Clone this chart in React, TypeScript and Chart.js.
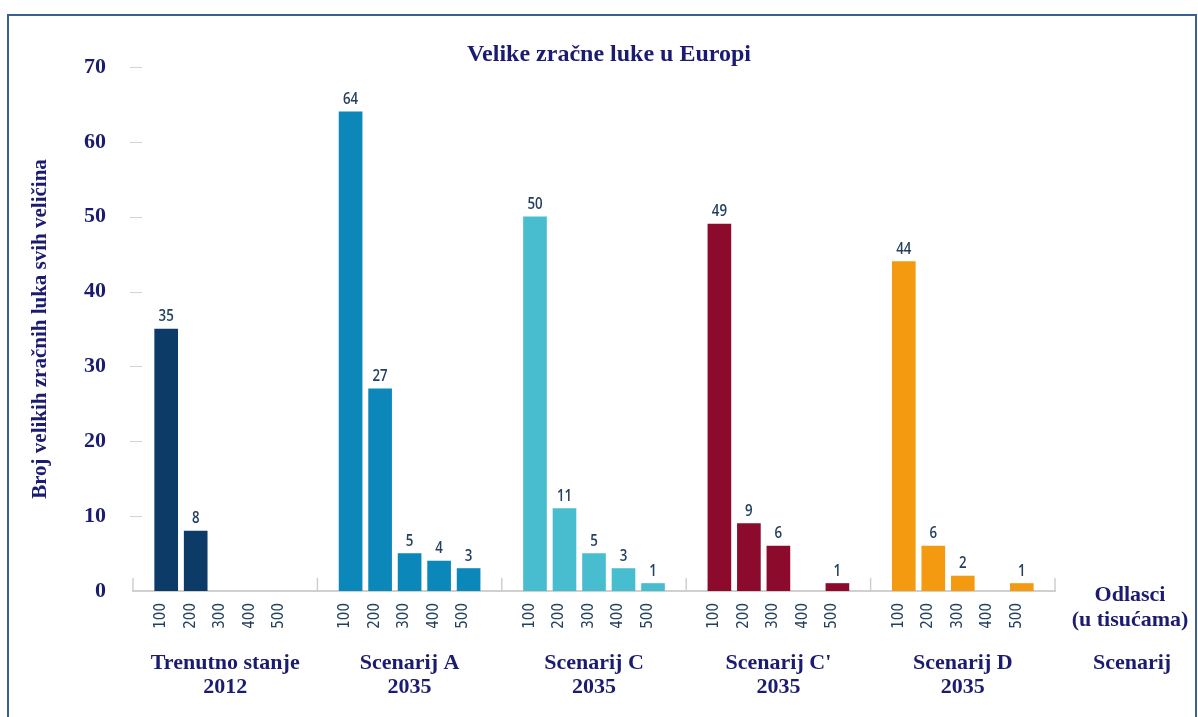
import React, { useEffect, useRef } from "react";
import { Chart, registerables } from "chart.js";

Chart.register(...registerables);

const TITLE = "Velike zračne luke u Europi";
const Y_TITLE = "Broj velikih zračnih luka svih veličina";
const GROUP_LABELS: string[][] = [
  ["Trenutno stanje", "2012"],
  ["Scenarij A", "2035"],
  ["Scenarij C", "2035"],
  ["Scenarij C'", "2035"],
  ["Scenarij D", "2035"],
];
const SIZE_LABELS = ["100", "200", "300", "400", "500"];
const trenutno2012 = [35, 8, 0, 0, 0];
const scenarijA = [64, 27, 5, 4, 3];
const scenarijC = [50, 11, 5, 3, 1];
const scenarijC2 = [49, 9, 6, 0, 1];
const scenarijD = [44, 6, 2, 0, 1];
const SERIES = [trenutno2012, scenarijA, scenarijC, scenarijC2, scenarijD];
const COLORS = ["#0b3b66", "#0b87b9", "#49bdd0", "#8c0a2b", "#f39a10"];
const Y_TICKS = [0, 10, 20, 30, 40, 50, 60, 70];
const X_UNIT_LABEL = ["Odlasci", "(u tisućama)"];
const SCENARIO_LABEL = "Scenarij";

const GROUP_W = 6.25;
const GROUP_PAD = 1.125;
const xOf = (g: number, i: number) => g * GROUP_W + GROUP_PAD + i;

const SERIF = "'Liberation Serif', 'Times New Roman', serif";
const NARROW = "'DejaVu Sans Condensed', 'Liberation Sans Narrow', sans-serif";
const LABEL_FONT = "'Open Sans', 'Noto Sans', sans-serif";
const NAVY = "#1b1b70";
const LABEL_COL = "#23405e";

export default function App() {
  const ref = useRef<HTMLCanvasElement | null>(null);
  useEffect(() => {
    if (!ref.current) return;
    const tickPositions: number[] = [];
    const tickText: Record<string, string> = {};
    SERIES.forEach((_, g) =>
      SIZE_LABELS.forEach((lab, i) => {
        const v = xOf(g, i);
        tickPositions.push(v);
        tickText[v.toFixed(3)] = lab;
      })
    );
    const decor = {
      id: "decor",
      afterDraw(chart: any) {
        const { ctx, chartArea, scales } = chart;
        const xs = scales.x;
        const ys = scales.y;
        ctx.save();
        // y tick dashes
        ctx.strokeStyle = "#d2d2d2";
        ctx.lineWidth = 1;
        Y_TICKS.slice(1).forEach((t) => {
          const y = Math.round(ys.getPixelForValue(t)) + 0.5;
          ctx.beginPath();
          ctx.moveTo(chartArea.left - 3, y);
          ctx.lineTo(chartArea.left + 9, y);
          ctx.stroke();
        });
        // group separators
        ctx.strokeStyle = "#cfcfcf";
        ctx.lineWidth = 1.5;
        for (let g = 0; g <= SERIES.length; g++) {
          const x = xs.getPixelForValue(g * GROUP_W);
          ctx.beginPath();
          ctx.moveTo(x, chartArea.bottom);
          ctx.lineTo(x, chartArea.bottom - 13);
          ctx.stroke();
        }
        // value labels (condensed)
        ctx.fillStyle = LABEL_COL;
        ctx.font = `600 17px ${LABEL_FONT}`;
        ctx.textAlign = "center";
        ctx.textBaseline = "alphabetic";
        SERIES.forEach((arr, g) =>
          arr.forEach((v, i) => {
            if (!v) return;
            const x = xs.getPixelForValue(xOf(g, i));
            const y = ys.getPixelForValue(v);
            ctx.save();
            ctx.translate(x, y - 8);
            ctx.scale(0.78, 1);
            ctx.fillText(String(v), 0, 0);
            ctx.restore();
          })
        );
        // title
        ctx.fillStyle = NAVY;
        ctx.font = `bold 24px ${SERIF}`;
        ctx.textBaseline = "middle";
        ctx.fillText(TITLE, 609, 55);
        // group labels
        ctx.font = `bold 22px ${SERIF}`;
        GROUP_LABELS.forEach((lines, g) => {
          const x = xs.getPixelForValue(g * GROUP_W + GROUP_W / 2);
          lines.forEach((l, k) => ctx.fillText(l, x, 663 + k * 24));
        });
        ctx.fillText(X_UNIT_LABEL[0], 1130, 595);
        ctx.fillText(X_UNIT_LABEL[1], 1130, 620);
        ctx.fillText(SCENARIO_LABEL, 1132, 663);
        ctx.restore();
      },
    };
    const chart = new Chart(ref.current, {
      type: "bar",
      data: {
        datasets: SERIES.map((arr, g) => ({
          label: GROUP_LABELS[g].join(" "),
          data: arr.map((v, i) => ({ x: xOf(g, i), y: v === 0 ? null : v })),
          backgroundColor: COLORS[g],
          borderWidth: 0,
          barThickness: 23,
          grouped: false,
        })),
      },
      options: {
        animation: false,
        responsive: false,
        maintainAspectRatio: false,
        layout: { padding: { left: 0, top: 67, right: 143, bottom: 0 } },
        plugins: { legend: { display: false }, title: { display: false }, tooltip: { enabled: false } },
        scales: {
          x: {
            type: "linear",
            min: 0,
            max: GROUP_W * SERIES.length,
            offset: false,
            grid: { display: false },
            border: { display: true, color: "#d0d0d0", width: 2 },
            afterBuildTicks: (scale: any) => {
              scale.ticks = tickPositions.map((v) => ({ value: v }));
            },
            afterFit: (scale: any) => {
              scale.height = 717 - 591;
            },
            ticks: {
              autoSkip: false,
              minRotation: 90,
              maxRotation: 90,
              padding: 4,
              labelOffset: -5,
              color: LABEL_COL,
              font: { family: NARROW, size: 15 },
              callback: (v: any) => tickText[Number(v).toFixed(3)] ?? "",
            },
          },
          y: {
            min: 0,
            max: 70,
            grid: { display: false },
            border: { display: false },
            afterBuildTicks: (scale: any) => {
              scale.ticks = Y_TICKS.map((v) => ({ value: v }));
            },
            afterFit: (scale: any) => {
              scale.width = 133;
            },
            ticks: {
              padding: 19,
              color: NAVY,
              font: { family: SERIF, size: 22, weight: "bold" },
            },
            title: {
              display: true,
              text: Y_TITLE,
              color: NAVY,
              font: { family: SERIF, size: 21, weight: "bold" },
              padding: { top: 28, bottom: 0 },
            },
          },
        },
      },
      plugins: [decor],
    } as any);
    return () => chart.destroy();
  }, []);
  return (
    <div
      style={{
        position: "absolute",
        left: 0,
        top: 0,
        width: 1198,
        height: 717,
        overflow: "hidden",
        background: "#fff",
      }}
    >
      <div
        style={{
          position: "absolute",
          left: 7,
          top: 14,
          width: 1190,
          height: 720,
          boxSizing: "border-box",
          border: "2px solid #3b6192",
        }}
      />
      <canvas ref={ref} width={1198} height={717} style={{ position: "absolute", left: 0, top: 0 }} />
    </div>
  );
}
